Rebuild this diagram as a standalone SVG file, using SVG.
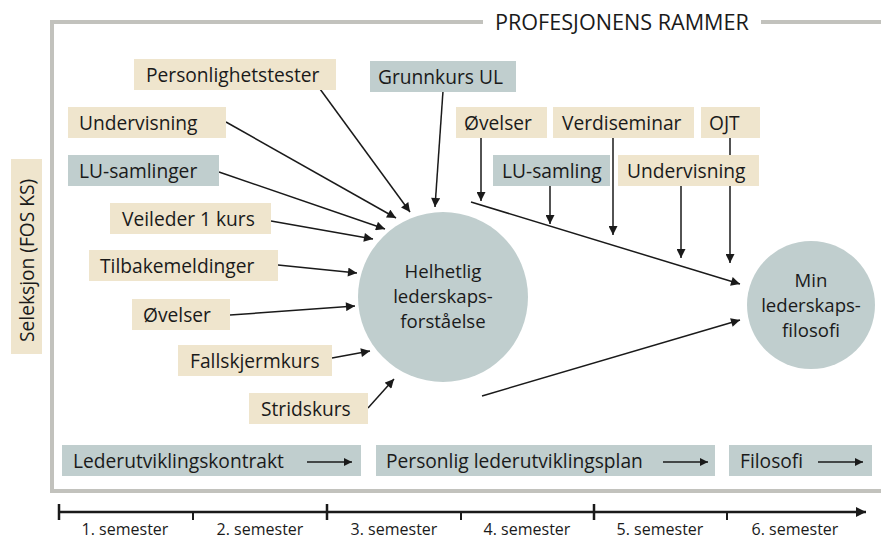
<svg xmlns="http://www.w3.org/2000/svg" width="881" height="539" viewBox="0 0 881 539">
<style>
text{font-family:"Open Sans","Noto Sans","Liberation Sans",sans-serif;fill:#1a1a1a}
.lbl{font-size:19.2px}
.cl{font-size:18.6px}
.sem{font-size:16px}
.beige{fill:#efe5cd}
.blue{fill:#c0cece}
.circ{fill:#c0cece}
.frame{stroke:#c2c2bd;stroke-width:4;fill:none}
.con{stroke:#1a1a1a;stroke-width:1.5;fill:none}
.mid{text-anchor:middle}
</style>
<defs>
<marker id="ah" viewBox="0 0 10 10" refX="10" refY="5" markerWidth="10" markerHeight="9" orient="auto" markerUnits="userSpaceOnUse"><path d="M0,0 L10,5 L0,10 z" fill="#1a1a1a"/></marker>
<marker id="ahs" viewBox="0 0 10 10" refX="10" refY="5" markerWidth="9" markerHeight="8" orient="auto" markerUnits="userSpaceOnUse"><path d="M0,0 L10,5 L0,10 z" fill="#1a1a1a"/></marker>
<marker id="aht" viewBox="0 0 10 10" refX="10" refY="5" markerWidth="10" markerHeight="10" orient="auto" markerUnits="userSpaceOnUse"><path d="M0,0 L10,5 L0,10 z" fill="#1a1a1a"/></marker>
</defs>
<rect width="881" height="539" fill="#fff"/>

<g id="frame">
<path class="frame" d="M52,493 V22 H483 M761,22 H881 M50,491 H881"/>
<text x="495" y="30" style="font-size:21.6px">PROFESJONENS RAMMER</text>
</g>

<g id="seleksjon">
<rect class="beige" x="11" y="159" width="31" height="195"/>
<text class="lbl" transform="translate(33.5,342) rotate(-90)">Seleksjon (FOS KS)</text>
</g>

<g id="connectors">
<line class="con" x1="320" y1="89" x2="410" y2="212" marker-end="url(#ah)"/>
<line class="con" x1="443" y1="91" x2="435" y2="207" marker-end="url(#ah)"/>
<line class="con" x1="226" y1="122" x2="396" y2="218" marker-end="url(#ah)"/>
<line class="con" x1="219" y1="172" x2="385" y2="229" marker-end="url(#ah)"/>
<line class="con" x1="271" y1="221" x2="373" y2="239" marker-end="url(#ah)"/>
<line class="con" x1="278" y1="265" x2="357" y2="273" marker-end="url(#ah)"/>
<line class="con" x1="230" y1="315" x2="355" y2="306" marker-end="url(#ah)"/>
<line class="con" x1="332" y1="358" x2="370" y2="351" marker-end="url(#ah)"/>
<line class="con" x1="368" y1="408" x2="394" y2="379" marker-end="url(#ah)"/>
<line class="con" x1="481" y1="138" x2="481" y2="201" marker-end="url(#ah)"/>
<line class="con" x1="550" y1="186" x2="550" y2="224" marker-end="url(#ah)"/>
<line class="con" x1="613" y1="138" x2="613" y2="235" marker-end="url(#ah)"/>
<line class="con" x1="681" y1="186" x2="681" y2="258" marker-end="url(#ah)"/>
<line class="con" x1="730" y1="138" x2="730" y2="263" marker-end="url(#ah)"/>
<line class="con" x1="471" y1="202" x2="740" y2="284" marker-end="url(#ah)"/>
<line class="con" x1="482" y1="396" x2="740" y2="320" marker-end="url(#ah)"/>
</g>

<g id="personlighetstester"><rect class="beige" x="134" y="59" width="202" height="31"/><text class="lbl" x="146" y="82">Personlighetstester</text></g>
<g id="grunnkurs-ul"><rect class="blue" x="370" y="61" width="146" height="31"/><text class="lbl" x="378" y="84">Grunnkurs UL</text></g>
<g id="undervisning-1"><rect class="beige" x="68" y="107" width="158" height="31"/><text class="lbl" x="79" y="130">Undervisning</text></g>
<g id="lu-samlinger"><rect class="blue" x="68" y="155" width="151" height="31"/><text class="lbl" x="79" y="178">LU-samlinger</text></g>
<g id="veileder"><rect class="beige" x="110" y="203" width="161" height="31"/><text class="lbl" x="122" y="226">Veileder 1 kurs</text></g>
<g id="tilbakemeldinger"><rect class="beige" x="89" y="250" width="189" height="31"/><text class="lbl" x="100" y="273">Tilbakemeldinger</text></g>
<g id="ovelser-1"><rect class="beige" x="132" y="299" width="98" height="31"/><text class="lbl" x="143" y="322">Øvelser</text></g>
<g id="fallskjermkurs"><rect class="beige" x="178" y="345" width="154" height="31"/><text class="lbl" x="190" y="368">Fallskjermkurs</text></g>
<g id="stridskurs"><rect class="beige" x="249" y="393" width="119" height="31"/><text class="lbl" x="261" y="416">Stridskurs</text></g>

<g id="ovelser-2"><rect class="beige" x="456" y="107" width="91" height="31"/><text class="lbl" x="464" y="130">Øvelser</text></g>
<g id="verdiseminar"><rect class="beige" x="553" y="107" width="141" height="31"/><text class="lbl" x="562" y="130">Verdiseminar</text></g>
<g id="ojt"><rect class="beige" x="701" y="107" width="59" height="31"/><text class="lbl" x="709" y="130">OJT</text></g>
<g id="lu-samling"><rect class="blue" x="493" y="155" width="117" height="31"/><text class="lbl" x="502" y="178">LU-samling</text></g>
<g id="undervisning-2"><rect class="beige" x="618" y="155" width="141" height="31"/><text class="lbl" x="627" y="178">Undervisning</text></g>

<g id="helhetlig"><circle class="circ" cx="443" cy="297" r="85"/>
<text class="cl mid" x="443" y="278">Helhetlig</text>
<text class="cl mid" x="443" y="303">lederskaps-</text>
<text class="cl mid" x="443" y="328">forståelse</text></g>
<g id="min-filosofi"><circle class="circ" cx="811" cy="305" r="64"/>
<text class="cl mid" x="811" y="287">Min</text>
<text class="cl mid" x="811" y="312">lederskaps-</text>
<text class="cl mid" x="811" y="337">filosofi</text></g>

<g id="lederutviklingskontrakt"><rect class="blue" x="62" y="445" width="299" height="31"/><text class="lbl" x="73" y="468">Lederutviklingskontrakt</text>
<line x1="307" y1="462" x2="352" y2="462" stroke="#1a1a1a" stroke-width="1.4" marker-end="url(#ahs)"/></g>
<g id="personlig-plan"><rect class="blue" x="376" y="445" width="339" height="31"/><text class="lbl" x="386" y="468">Personlig lederutviklingsplan</text>
<line x1="663" y1="462" x2="708" y2="462" stroke="#1a1a1a" stroke-width="1.4" marker-end="url(#ahs)"/></g>
<g id="filosofi"><rect class="blue" x="729" y="445" width="143" height="31"/><text class="lbl" x="740" y="468">Filosofi</text>
<line x1="818" y1="462" x2="863" y2="462" stroke="#1a1a1a" stroke-width="1.4" marker-end="url(#ahs)"/></g>

<g id="timeline">
<line x1="58" y1="512" x2="866" y2="512" stroke="#1a1a1a" stroke-width="2.5" marker-end="url(#aht)"/>
<path d="M59,504 V520 M327,504 V520 M594,504 V520" stroke="#1a1a1a" stroke-width="2.5"/>
<path d="M193,512 V520 M461,512 V520 M727,512 V520" stroke="#1a1a1a" stroke-width="2"/>
<text class="sem mid" x="125" y="535">1. semester</text>
<text class="sem mid" x="260" y="535">2. semester</text>
<text class="sem mid" x="394" y="535">3. semester</text>
<text class="sem mid" x="527" y="535">4. semester</text>
<text class="sem mid" x="660" y="535">5. semester</text>
<text class="sem mid" x="795" y="535">6. semester</text>
</g>
</svg>
